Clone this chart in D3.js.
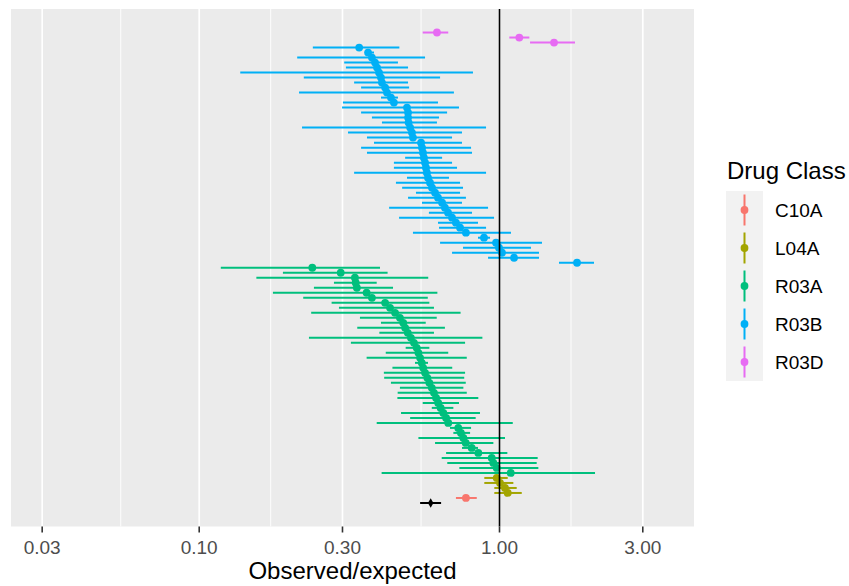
<!DOCTYPE html>
<html>
<head>
<meta charset="utf-8">
<script src="https://cdn.jsdelivr.net/npm/d3@7"></script>
<style>
  body { margin: 0; background: #fff; }
  svg text { font-family: "Liberation Sans", Arial, sans-serif; }
</style>
</head>
<body>
<div id="chart"></div>
<script>
/* Forest plot: observed/expected ratio by drug class */

// Drug classes (legend order) and ggplot hue colours
const classes = ['C10A', 'L04A', 'R03A', 'R03B', 'R03D'];
const classColors = ['#F8766D', '#A3A500', '#00BF7D', '#00B0F6', '#E76BF3'];

// Rows listed top to bottom within each class
const r03dEst = [0.619, 1.164, 1.519];
const r03dLo  = [0.555, 1.078, 1.264];
const r03dHi  = [0.675, 1.257, 1.784];

const r03bEst = [0.341, 0.365, 0.376, 0.385, 0.391, 0.397, 0.403, 0.406, 0.416, 0.422, 0.435,
  0.445, 0.492, 0.496, 0.496, 0.498, 0.504, 0.511, 0.515, 0.548, 0.552, 0.556, 0.560, 0.565,
  0.569, 0.573, 0.578, 0.587, 0.596, 0.610, 0.624, 0.644, 0.658, 0.674, 0.695, 0.716, 0.739,
  0.773, 0.888, 0.974, 0.996, 1.019, 1.118, 1.812];
const r03bLo = [0.239, 0.357, 0.212, 0.304, 0.308, 0.137, 0.223, 0.328, 0.346, 0.215, 0.403,
  0.301, 0.299, 0.346, 0.376, 0.406, 0.220, 0.313, 0.362, 0.382, 0.346, 0.362, 0.485, 0.445,
  0.445, 0.328, 0.492, 0.452, 0.474, 0.527, 0.496, 0.552, 0.429, 0.582, 0.463, 0.624, 0.629,
  0.515, 0.848, 0.634, 0.756, 0.695, 0.916, 1.578];
const r03bHi = [0.464, 0.382, 0.565, 0.459, 0.496, 0.816, 0.634, 0.496, 0.500, 0.705, 0.459,
  0.624, 0.733, 0.669, 0.629, 0.619, 0.902, 0.750, 0.695, 0.750, 0.804, 0.810, 0.644, 0.695,
  0.722, 0.902, 0.679, 0.739, 0.756, 0.739, 0.773, 0.750, 0.916, 0.810, 0.959, 0.848, 0.902,
  1.092, 0.930, 1.385, 1.273, 1.354, 1.354, 2.064];

const r03aEst = [0.238, 0.296, 0.330, 0.332, 0.335, 0.361, 0.376, 0.416, 0.432, 0.449, 0.466,
  0.478, 0.485, 0.495, 0.507, 0.519, 0.530, 0.537, 0.544, 0.551, 0.557, 0.565, 0.575, 0.584,
  0.595, 0.605, 0.615, 0.625, 0.637, 0.650, 0.664, 0.675, 0.729, 0.744, 0.758, 0.772, 0.808,
  0.850, 0.942, 0.954, 0.979, 1.090];
const r03aLo = [0.118, 0.190, 0.155, 0.281, 0.241, 0.176, 0.222, 0.276, 0.292, 0.236, 0.343,
  0.403, 0.336, 0.398, 0.232, 0.320, 0.487, 0.418, 0.361, 0.523, 0.440, 0.412, 0.413, 0.435,
  0.466, 0.458, 0.457, 0.555, 0.595, 0.470, 0.504, 0.390, 0.684, 0.702, 0.537, 0.610, 0.750,
  0.664, 0.642, 0.670, 0.735, 0.405];
const r03aHi = [0.400, 0.424, 0.579, 0.390, 0.442, 0.621, 0.577, 0.584, 0.605, 0.742, 0.618,
  0.568, 0.658, 0.605, 0.877, 0.768, 0.584, 0.675, 0.778, 0.578, 0.696, 0.768, 0.763, 0.772,
  0.758, 0.778, 0.850, 0.733, 0.702, 0.861, 0.833, 1.107, 0.804, 0.798, 1.043, 0.954, 0.848,
  1.062, 1.340, 1.330, 1.347, 2.080];

const l04aEst = [0.979, 1.004, 1.043, 1.065];
const l04aLo  = [0.890, 0.890, 0.961, 0.961];
const l04aHi  = [1.065, 1.112, 1.141, 1.186];

const c10aEst = [0.773];
const c10aLo  = [0.716];
const c10aHi  = [0.840];

// pooled estimate, drawn in black
const overallEst = [0.590];
const overallLo  = [0.544];
const overallHi  = [0.639];

// x axis breaks
const xTicks = [0.03, 0.1, 0.3, 1, 3];
const xTickLabels = ['0.03', '0.10', '0.30', '1.00', '3.00'];
const xMinor = [0.0548, 0.173, 0.548, 1.73];

function drawChart() {
  const width = 849, height = 586;
  const panel = { left: 11, right: 694, top: 9, bottom: 526.5 };

  const groups = [
    { cls: 'R03D', est: r03dEst, lo: r03dLo, hi: r03dHi },
    { cls: 'R03B', est: r03bEst, lo: r03bLo, hi: r03bHi },
    { cls: 'R03A', est: r03aEst, lo: r03aLo, hi: r03aHi },
    { cls: 'L04A', est: l04aEst, lo: l04aLo, hi: l04aHi },
    { cls: 'C10A', est: c10aEst, lo: c10aLo, hi: c10aHi },
    { cls: null, est: overallEst, lo: overallLo, hi: overallHi }
  ];

  // flatten to rows; index 0 is the bottom row
  let rows = [];
  groups.forEach(g => g.est.forEach((v, i) => rows.push({ cls: g.cls, est: v, lo: g.lo[i], hi: g.hi[i] })));
  const n = rows.length;
  rows.forEach((r, i) => { r.idx = n - 1 - i; });

  const colorOf = d => d.cls ? classColors[classes.indexOf(d.cls)] : '#000000';

  const x = d3.scaleLog().domain([0.02362, 4.443]).range([panel.left, panel.right]);
  const pad = (n - 1) * 0.05;
  const y = d3.scaleLinear().domain([-pad, n - 1 + pad]).range([panel.bottom, panel.top]);

  const svg = d3.select('#chart').append('svg')
    .attr('width', width).attr('height', height);

  svg.append('rect')
    .attr('x', panel.left).attr('y', panel.top)
    .attr('width', panel.right - panel.left).attr('height', panel.bottom - panel.top)
    .attr('fill', '#EBEBEB');

  // gridlines
  svg.append('g').selectAll('line').data(xMinor).enter().append('line')
    .attr('x1', d => x(d)).attr('x2', d => x(d))
    .attr('y1', panel.top).attr('y2', panel.bottom)
    .attr('stroke', '#fff').attr('stroke-width', 0.9);

  svg.append('g').selectAll('line').data(xTicks).enter().append('line')
    .attr('x1', d => x(d)).attr('x2', d => x(d))
    .attr('y1', panel.top).attr('y2', panel.bottom)
    .attr('stroke', '#fff').attr('stroke-width', 1.7);

  // error bars then points
  svg.append('g').selectAll('line').data(rows).enter().append('line')
    .attr('x1', d => x(d.lo)).attr('x2', d => x(d.hi))
    .attr('y1', d => y(d.idx)).attr('y2', d => y(d.idx))
    .attr('stroke', colorOf).attr('stroke-width', 2);

  svg.append('g').selectAll('circle').data(rows.filter(d => d.cls)).enter().append('circle')
    .attr('cx', d => x(d.est)).attr('cy', d => y(d.idx))
    .attr('r', 3.9).attr('fill', colorOf);

  svg.append('g').selectAll('path').data(rows.filter(d => !d.cls)).enter().append('path')
    .attr('transform', d => `translate(${x(d.est)},${y(d.idx)})`)
    .attr('d', d3.symbol(d3.symbolDiamond, 26))
    .attr('fill', '#000');

  // reference line at 1
  svg.append('line')
    .attr('x1', x(1)).attr('x2', x(1))
    .attr('y1', panel.top).attr('y2', panel.bottom)
    .attr('stroke', '#000').attr('stroke-width', 1.6);

  // x axis
  const axis = svg.append('g');
  axis.selectAll('line').data(xTicks).enter().append('line')
    .attr('x1', d => x(d)).attr('x2', d => x(d))
    .attr('y1', panel.bottom).attr('y2', panel.bottom + 6)
    .attr('stroke', '#333').attr('stroke-width', 1.6);

  axis.selectAll('text').data(xTicks).enter().append('text')
    .attr('x', d => x(d)).attr('y', 554)
    .attr('text-anchor', 'middle')
    .style('font-size', '19px').style('fill', '#4D4D4D')
    .text((d, i) => xTickLabels[i]);

  svg.append('text')
    .attr('x', (panel.left + panel.right) / 2).attr('y', 579)
    .attr('text-anchor', 'middle')
    .style('font-size', '24px').style('fill', '#000')
    .text('Observed/expected');

  // legend
  const leg = svg.append('g').attr('transform', 'translate(726,0)');
  leg.append('text').attr('x', 1).attr('y', 179)
    .style('font-size', '24px').style('fill', '#000')
    .text('Drug Class');

  const keyTop = 191, keyH = 38, keyW = 37;
  const keys = leg.selectAll('.key').data(classes).enter().append('g')
    .attr('class', 'key')
    .attr('transform', (d, i) => `translate(0,${keyTop + i * keyH})`);

  keys.append('rect').attr('width', keyW).attr('height', keyH).attr('fill', '#F2F2F2');
  keys.append('line')
    .attr('x1', keyW / 2).attr('x2', keyW / 2)
    .attr('y1', 3.5).attr('y2', keyH - 3.5)
    .attr('stroke', (d, i) => classColors[i]).attr('stroke-width', 2);
  keys.append('circle')
    .attr('cx', keyW / 2).attr('cy', keyH / 2).attr('r', 3.9)
    .attr('fill', (d, i) => classColors[i]);
  keys.append('text')
    .attr('x', 49).attr('y', keyH / 2).attr('dy', '0.36em')
    .style('font-size', '19px').style('fill', '#000')
    .text(d => d);
}

document.addEventListener('DOMContentLoaded', drawChart);
</script>
</body>
</html>
